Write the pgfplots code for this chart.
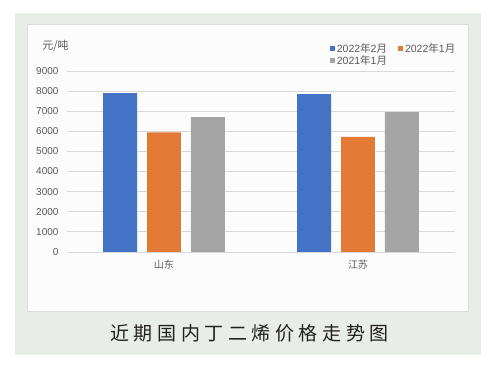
\documentclass[border=0pt]{standalone}
\usepackage{fontspec}
\setmainfont{Liberation Sans}
\newfontfamily\cjk{Noto Sans CJK SC}
\newfontfamily\cjktitle[LetterSpace=24]{Noto Sans CJK SC}
\usepackage{pgfplots}
\pgfplotsset{compat=1.18}
\definecolor{bgout}{HTML}{E8EDE7}
\definecolor{bgin}{HTML}{FCFCFC}
\definecolor{panelb}{HTML}{D8DCD8}
\definecolor{gridc}{HTML}{D9D9D9}
\definecolor{tickc}{HTML}{595959}
\definecolor{titlec}{HTML}{231F20}
\definecolor{cblue}{HTML}{4472C4}
\definecolor{corange}{HTML}{E27934}
\definecolor{cgray}{HTML}{A5A5A5}
\begin{document}
\begin{tikzpicture}
\path[use as bounding box] (0pt,0pt) rectangle (491pt,366pt);
\fill[bgout] (15pt,11pt) rectangle (481pt,353pt);
\filldraw[fill=bgin, draw=panelb, line width=0.6pt] (27pt,55pt) rectangle (468pt,342pt);
\node[font=\cjktitle\fontsize{19}{21}\selectfont, text=titlec] at (249.5pt,33pt) {近期国内丁二烯价格走势图};
\node[font=\cjk\fontsize{11}{13}\selectfont, text=tickc] at (55.5pt,320pt) {元/吨};
\begin{axis}[
  at={(67pt,114pt)}, anchor=south west,
  scale only axis, width=388pt, height=181pt,
  xmin=-0.5, xmax=1.5, ymin=0, ymax=9000,
  ytick={0,1000,...,9000},
  xtick={0,1}, xticklabels={{\cjk 山东},{\cjk 江苏}},
  axis line style={draw=none},
  major tick length=0pt,
  ymajorgrids, grid style={gridc, line width=0.8pt},
  tick label style={text=tickc, font=\fontsize{10}{12}\selectfont},
  yticklabel style={xshift=-5pt},
  xticklabel style={yshift=-5pt},
  /pgf/number format/assume math mode=true,
  /pgf/number format/set thousands separator={},
  legend columns=2,
  legend style={draw=none, fill=none, at={(0.677,1.165)}, anchor=north west,
    font=\fontsize{10.5}{11}\selectfont, text=tickc,
    /tikz/every even column/.append style={column sep=9pt},
    inner sep=0pt, row sep=-2pt},
  legend image code/.code={\fill (0pt,-2.5pt) rectangle (5pt,2.5pt);},
]
\addplot[ybar, fill=cblue, draw=none, bar width=0.175, bar shift=-0.226] coordinates {(0,7900) (1,7850)};
\addlegendentry{2022{\cjk 年}2{\cjk 月}}
\addplot[ybar, fill=corange, draw=none, bar width=0.175, bar shift=0] coordinates {(0,5950) (1,5720)};
\addlegendentry{2022{\cjk 年}1{\cjk 月}}
\addplot[ybar, fill=cgray, draw=none, bar width=0.175, bar shift=0.226] coordinates {(0,6710) (1,6960)};
\addlegendentry{2021{\cjk 年}1{\cjk 月}}
\end{axis}
\end{tikzpicture}
\end{document}
